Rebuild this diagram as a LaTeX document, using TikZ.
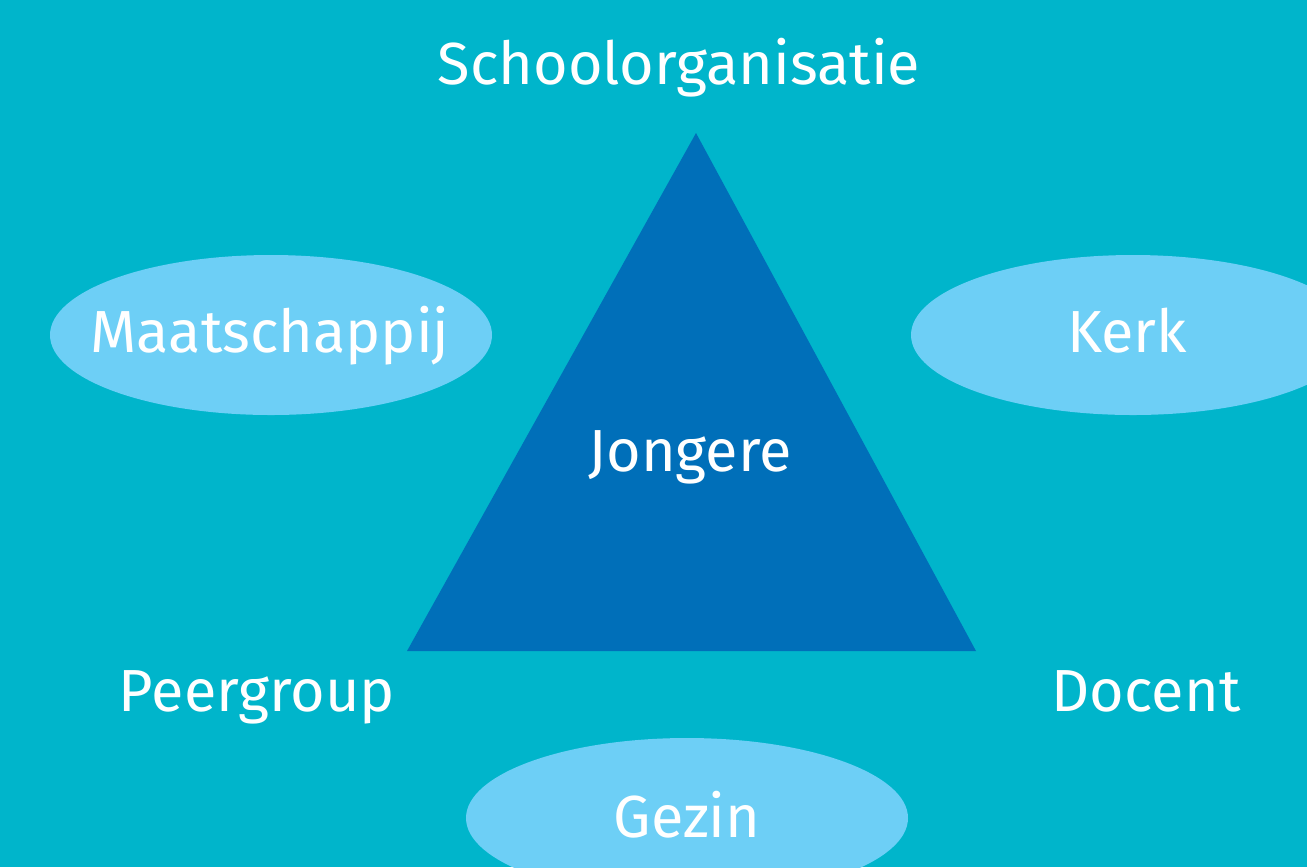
\documentclass[tikz,border=0pt]{standalone}
\usepackage{fontspec}
\setmainfont{Fira Sans}
\definecolor{bgcyan}{HTML}{00B5CB}
\definecolor{tridark}{HTML}{006FB9}
\definecolor{elllight}{HTML}{6DCFF6}
\begin{document}
\begin{tikzpicture}[x=0.02cm,y=-0.02cm,
  lbl/.style={text=white,font=\fontsize{33.8}{40}\selectfont,inner sep=0pt,anchor=base},
  blob/.style={fill=elllight,draw=none}]
\useasboundingbox (0,0) rectangle (1307,867);
\clip (0,0) rectangle (1307,867);
\fill[bgcyan] (0,0) rectangle (1307,867);
\fill[tridark] (696,133) -- (407,651) -- (976,651) -- cycle;
\fill[blob] (271,335) ellipse [x radius=221, y radius=80];
\fill[blob] (1133,335) ellipse [x radius=222, y radius=80];
\fill[blob] (687,818) ellipse [x radius=221, y radius=80];
\node[lbl] (school) at (679,84) {Schoolorganisatie};
\node[lbl] (maat) at (270,352) {Maatschappij};
\node[lbl] (kerk) at (1127,352) {Kerk};
\node[lbl] (jong) at (690,471) {Jongere};
\node[lbl] (peer) at (257,711) {Peergroup};
\node[lbl] (doc) at (1146,711) {Docent};
\node[lbl] (gezin) at (687,837) {Gezin};
\end{tikzpicture}
\end{document}
